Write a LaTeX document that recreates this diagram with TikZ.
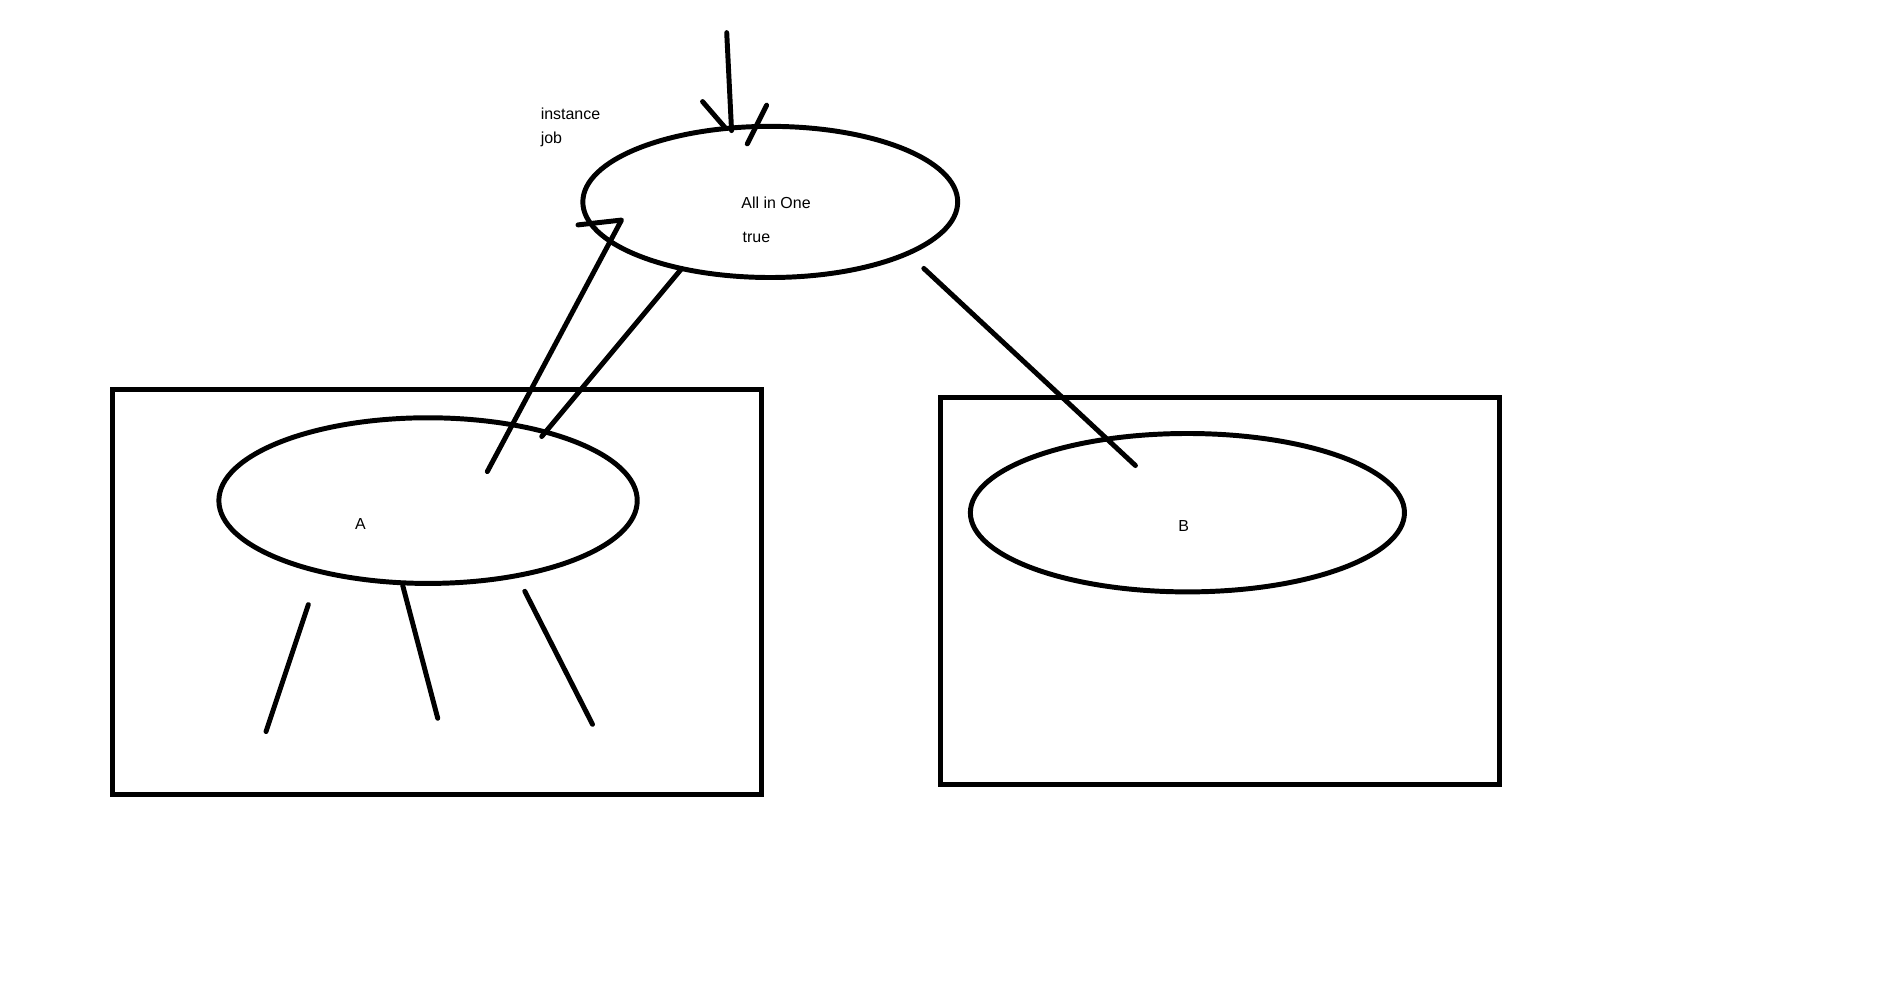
\documentclass[tikz,border=0pt]{standalone}
\usepackage{fontspec}
\setmainfont{Liberation Sans}
\usetikzlibrary{shapes.geometric}
\begin{document}
\begin{tikzpicture}[x=1pt,y=-1pt,
  pen/.style={line width=4.1pt,line cap=round,line join=round},
  boxframe/.style={draw,line width=4.2pt,line join=miter},
  oval/.style={draw,ellipse,line width=4.1pt,inner sep=0pt},
  lbl/.style={font=\fontsize{13.2}{15}\selectfont,inner sep=0pt,anchor=west,text=black}]
\useasboundingbox[fill=white] (0,0) rectangle (1568,829);
% boxes
\draw[boxframe] (93,322) rectangle (630,657);
\draw[boxframe] (778,329) rectangle (1240,649);
% ellipses
\node[oval,minimum width=310pt,minimum height=125pt] (top) at (637,167) {};
\node[oval,minimum width=346pt,minimum height=137pt] (A) at (354,414) {};
\node[oval,minimum width=359pt,minimum height=131pt] (B) at (982,424) {};
% texts
\node[lbl] (t1) at (613,168) {All in One};
\node[lbl] (t2) at (614,196) {true};
\node[lbl] (t3) at (447,94) {instance};
\node[lbl] (t4) at (447,115) {job};
\node[lbl,anchor=center] (tA) at (298,433) {A};
\node[lbl,anchor=center] (tB) at (979,435) {B};
% coordinates
\coordinate (inS) at (601,27);
\coordinate (inE) at (605,108);
\coordinate (bl1) at (581,84);
\coordinate (bl2) at (600,106);
\coordinate (br1) at (634,87);
\coordinate (br2) at (618,119);
\coordinate (upS) at (403,390);
\coordinate (upE) at (514,182);
\coordinate (upB) at (478,186);
\coordinate (dnS) at (563,223);
\coordinate (dnE) at (448,361);
\coordinate (rbS) at (764,222);
\coordinate (rbE) at (939,385);
\coordinate (l1a) at (255,500);
\coordinate (l1b) at (220,605);
\coordinate (l2a) at (333,484);
\coordinate (l2b) at (362,594);
\coordinate (l3a) at (434,489);
\coordinate (l3b) at (490,599);
% incoming arrow into top
\draw[pen] (inS) -- (inE);
\draw[pen] (bl1) -- (bl2);
\draw[pen] (br1) -- (br2);
% arrow from A up to top
\draw[pen] (upS) -- (upE) -- (upB);
% line from top to A
\draw[pen] (dnS) -- (dnE);
% line from top to B
\draw[pen] (rbS) -- (rbE);
% three lines below A
\draw[pen] (l1a) -- (l1b);
\draw[pen] (l2a) -- (l2b);
\draw[pen] (l3a) -- (l3b);
\end{tikzpicture}
\end{document}
